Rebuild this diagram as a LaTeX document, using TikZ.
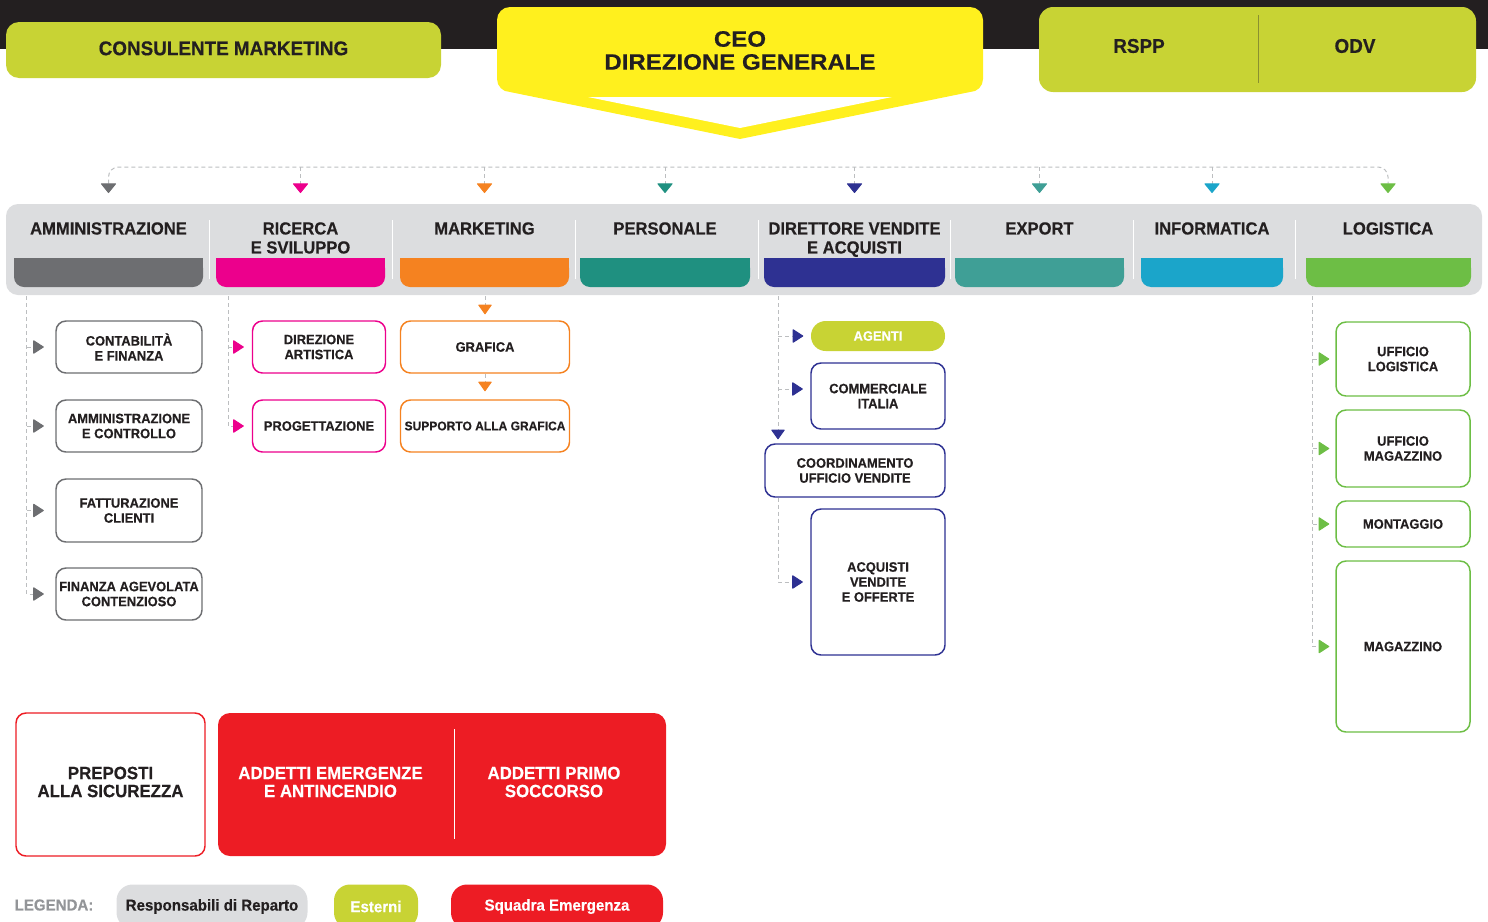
\documentclass[tikz,border=0pt]{standalone}
\usepackage{fontspec}
\setmainfont{Liberation Sans}[FakeStretch=0.95, BoldFeatures={FakeBold=0.4}]
\newfontfamily\ceofont{Liberation Sans}[FakeStretch=1.08, BoldFeatures={FakeBold=0.4}]
\usepackage{graphicx}
\usetikzlibrary{arrows.meta}
\definecolor{cDark}{HTML}{231F20}
\definecolor{cLime}{HTML}{C8D334}
\definecolor{cYel}{HTML}{FFF01E}
\definecolor{cPanel}{HTML}{DCDDDF}
\definecolor{cAmm}{HTML}{6D6E71}
\definecolor{cRic}{HTML}{EC008C}
\definecolor{cMkt}{HTML}{F58220}
\definecolor{cPer}{HTML}{1F9080}
\definecolor{cDir}{HTML}{2E3192}
\definecolor{cExp}{HTML}{3F9F96}
\definecolor{cInf}{HTML}{1BA5CA}
\definecolor{cLog}{HTML}{6DBE45}
\definecolor{cRed}{HTML}{ED1C24}
\definecolor{cDash}{HTML}{BCBEC0}
\definecolor{cLeg}{HTML}{939598}
\definecolor{cDiv}{HTML}{8A9030}
\newcommand{\setfs}[2]{\fontsize{#1}{#2}\selectfont}
\newcommand{\deptbar}[3]{%
  \fill[#3, rounded corners=7.5pt] (#1,258) rectangle (#2,287);
  \fill[#3] (#1,258) rectangle (#2,272);}
\begin{document}
\begin{tikzpicture}[x=0.75pt,y=-0.75pt,
  every node/.style={text=cDark},
  topfont/.style={font=\bfseries\setfs{14.9pt}{16pt}},
  deptname/.style={anchor=north, inner sep=0pt, align=center, font=\bfseries\setfs{13.1pt}{14.25pt}},
  kid/.style={draw=#1, fill=white, line width=1.1pt, rounded corners=7.5pt, inner sep=0pt, align=center, font=\bfseries\setfs{10.2pt}{11.25pt}},
  dline/.style={draw=cDash, line width=0.75pt, dash pattern=on 3pt off 2.25pt},
  rtip/.style={-{Triangle[round,width=10.5pt,length=8.25pt,color=#1]}},
  dtip/.style={-{Triangle[round,width=10.5pt,length=7.5pt,color=#1]}},
  ttip/.style={-{Triangle[round,width=12pt,length=7.5pt,color=#1]}},
  bigfont/.style={font=\bfseries\setfs{13.3pt}{13.5pt}},
  legfont/.style={font=\bfseries\setfs{11.9pt}{13pt}},
  pill/.style={rounded corners=12pt, inner sep=0pt, minimum height=33pt},
]
\path[use as bounding box] (0,0) rectangle (1488,921);
\clip (0,0) rectangle (1488,921);

% top band
\fill[cDark] (0,0) rectangle (1488,49);

% consulente
\node[fill=cLime, rounded corners=9.75pt, minimum width=326.25pt, minimum height=42pt, inner sep=0pt, topfont] (cons) at (223.5,50) {\raisebox{2.6pt}{CONSULENTE MARKETING}};

% CEO
\fill[cYel] (497,20) arc[start angle=180,end angle=270,radius=13] -- (970,7)
  arc[start angle=270,end angle=360,radius=13] -- (983,79)
  arc[start angle=0,end angle=90,radius=13] -- (740,139) -- (510,92)
  arc[start angle=90,end angle=180,radius=13] -- cycle;
\fill[white] (588,97) -- (892,97) -- (740,128) -- cycle;
\node[font=\ceofont\bfseries\setfs{16.7pt}{17.25pt}, align=center, inner sep=0pt] (ceo) at (740,50.5) {CEO\\DIREZIONE GENERALE};

% RSPP / ODV
\fill[cLime, rounded corners=10.5pt] (1039,7) rectangle (1476,92);
\draw[cDiv, line width=0.75pt] (1258,15) -- (1258,83);
\node[topfont, inner sep=0pt] (rspp) at (1139,46) {RSPP};
\node[topfont, inner sep=0pt] (odv) at (1355,46) {ODV};

% department panel
\fill[cPanel, rounded corners=9pt] (6,204) rectangle (1482,295);
\foreach \sx in {209,392,575,758,950,1133,1295}
  \draw[white, line width=0.75pt] (\sx,220) -- (\sx,279);
\deptbar{14}{203}{cAmm}
\deptbar{216}{385}{cRic}
\deptbar{400}{569}{cMkt}
\deptbar{580}{750}{cPer}
\deptbar{764}{945}{cDir}
\deptbar{955}{1124}{cExp}
\deptbar{1141}{1283}{cInf}
\deptbar{1306}{1471}{cLog}

\node[deptname] (amm) at (108.5,222) {AMMINISTRAZIONE};
\node[deptname] (ric) at (300.5,222) {RICERCA\\E SVILUPPO};
\node[deptname] (mkt) at (484.5,222) {MARKETING};
\node[deptname] (per) at (665,222) {PERSONALE};
\node[deptname] (dir) at (854.5,222) {DIRETTORE VENDITE\\E ACQUISTI};
\node[deptname] (exp) at (1039.5,222) {EXPORT};
\node[deptname] (inf) at (1212,222) {INFORMATICA};
\node[deptname] (log) at (1388,222) {LOGISTICA};

% bus
\draw[dline, rounded corners=7.5pt,
  {Triangle[round,width=12pt,length=7.5pt,color=cAmm]}-{Triangle[round,width=12pt,length=7.5pt,color=cLog]},
  shorten <=21.75pt, shorten >=21.75pt]
  (amm.north) -- (amm.north |- 0,167) -- (log.north |- 0,167) -- (log.north);
\foreach \d/\c in {ric/cRic, mkt/cMkt, per/cPer, dir/cDir, exp/cExp, inf/cInf}
  \draw[dline, ttip=\c, shorten >=21.75pt] (\d.north |- 0,167) -- (\d.north);

% amministrazione
\node[kid=cAmm, minimum width=109.5pt, minimum height=39pt] (cont) at (129,347) {CONTABILITÀ\\E FINANZA};
\node[kid=cAmm, minimum width=109.5pt, minimum height=39pt] (ammc) at (129,426) {AMMINISTRAZIONE\\E CONTROLLO};
\node[kid=cAmm, minimum width=109.5pt, minimum height=47.25pt] (fatt) at (129,510.5) {FATTURAZIONE\\CLIENTI};
\node[kid=cAmm, minimum width=109.5pt, minimum height=39pt] (fin) at (129,594) {FINANZA AGEVOLATA\\CONTENZIOSO};
\coordinate (ammT) at (26.5,296);
\draw[dline, rtip=cAmm, shorten >=8.6pt] (ammT) |- (fin.west);
\foreach \k in {cont, ammc, fatt}
  \draw[dline, rtip=cAmm, shorten >=8.6pt] (ammT |- \k.west) -- (\k.west);

% ricerca
\node[kid=cRic, minimum width=99.75pt, minimum height=39pt] (dart) at (319,347) {DIREZIONE\\ARTISTICA};
\node[kid=cRic, minimum width=99.75pt, minimum height=39pt] (prog) at (319,426) {PROGETTAZIONE};
\coordinate (ricT) at (228,296);
\draw[dline, rtip=cRic, shorten >=6pt] (ricT) |- (prog.west);
\draw[dline, rtip=cRic, shorten >=6pt] (ricT |- dart.west) -- (dart.west);

% marketing
\node[kid=cMkt, minimum width=126.75pt, minimum height=39pt] (graf) at (485,347) {GRAFICA};
\node[kid=cMkt, minimum width=126.75pt, minimum height=39pt, font=\bfseries\setfs{9.5pt}{11pt}] (supp) at (485,426) {SUPPORTO ALLA GRAFICA};
\draw[dline, dtip=cMkt, shorten >=4.5pt] (graf.north |- 0,296) -- (graf.north);
\draw[dline, dtip=cMkt, shorten >=6pt] (graf.south) -- (supp.north);

% direttore vendite
\node[fill=cLime, rounded corners=11pt, minimum width=100.5pt, minimum height=22.5pt, inner sep=0pt, text=white, font=\bfseries\setfs{10.2pt}{11pt}] (agenti) at (878,336) {AGENTI};
\node[kid=cDir, minimum width=100.5pt, minimum height=49.5pt] (comm) at (878,396) {COMMERCIALE\\ITALIA};
\node[kid=cDir, minimum width=135pt, minimum height=39.75pt] (coord) at (855,470.5) {COORDINAMENTO\\UFFICIO VENDITE};
\node[kid=cDir, minimum width=100.5pt, minimum height=109.5pt] (acq) at (878,582) {ACQUISTI\\VENDITE\\E OFFERTE};
\coordinate (dirT) at (778,296);
\draw[dline, rtip=cDir, shorten >=5.6pt] (dirT |- agenti.west) -- (agenti.west);
\draw[dline, rtip=cDir, shorten >=5.6pt] (dirT |- 0,389) -- (comm.west |- 0,389);
\draw[dline, dtip=cDir, shorten >=3pt] (dirT) -- (dirT |- coord.north);
\draw[dline, rtip=cDir, shorten >=5.6pt] (dirT |- coord.south) |- (acq.west);

% logistica
\node[kid=cLog, minimum width=100.5pt, minimum height=55.5pt] (ufl) at (1403,359) {UFFICIO\\LOGISTICA};
\node[kid=cLog, minimum width=100.5pt, minimum height=57.75pt] (ufm) at (1403,448.5) {UFFICIO\\MAGAZZINO};
\node[kid=cLog, minimum width=100.5pt, minimum height=34.5pt] (mont) at (1403,524) {MONTAGGIO};
\node[kid=cLog, minimum width=100.5pt, minimum height=128.25pt] (mag) at (1403,646.5) {MAGAZZINO};
\coordinate (logT) at (1312.5,296);
\draw[dline, rtip=cLog, shorten >=4.5pt] (logT) |- (mag.west);
\foreach \k in {ufl, ufm, mont}
  \draw[dline, rtip=cLog, shorten >=4.5pt] (logT |- \k.west) -- (\k.west);

% sicurezza
\node[draw=cRed, line width=1.1pt, rounded corners=7.5pt, fill=white, minimum width=141.75pt, minimum height=107.25pt, inner sep=0pt, align=center, bigfont] (prep) at (110.5,784.5) {\raisebox{2.2pt}{\begin{tabular}{@{}c@{}}PREPOSTI\\ALLA SICUREZZA\end{tabular}}};
\node[fill=cRed, rounded corners=9pt, minimum width=336pt, minimum height=107.25pt, inner sep=0pt] (squad) at (442,784.5) {};
\draw[white, line width=0.75pt] (454,729) -- (454,839);
\node[bigfont, text=white, align=center, inner sep=0pt] (emerg) at (330.5,782) {ADDETTI EMERGENZE\\E ANTINCENDIO};
\node[bigfont, text=white, align=center, inner sep=0pt] (primo) at (554,782) {ADDETTI PRIMO\\SOCCORSO};

% legenda
\node[legfont, text=cLeg, inner sep=0pt] (leg) at (54,905) {LEGENDA:};
\node[pill, fill=cPanel, minimum width=143.25pt, legfont] (lresp) at (212,906.5) {Responsabili di Reparto};
\node[pill, fill=cLime, minimum width=63pt, legfont, text=white] (lest) at (376,906.5) {Esterni};
\node[pill, fill=cRed, minimum width=159pt, legfont, text=white] (lsq) at (557,906.5) {Squadra Emergenza};
\end{tikzpicture}
\end{document}
